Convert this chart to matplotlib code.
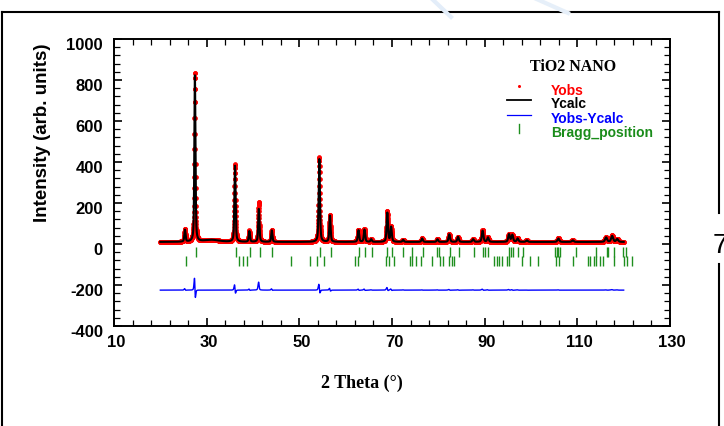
import numpy as np
import matplotlib
matplotlib.use("Agg")
from matplotlib import pyplot as plt
from matplotlib import transforms
from matplotlib.lines import Line2D
from matplotlib.ticker import MultipleLocator

plt.rcParams["axes.unicode_minus"] = False

# reflections of the refined pattern: position (deg 2theta), heights above background, fwhm
peak_pos = [25.3, 27.45, 31.0, 36.1, 39.2, 41.25, 44.05, 54.3, 56.6, 62.75, 64.05,
            65.5, 68.98, 69.8, 72.4, 76.5, 79.8, 82.35, 84.25, 87.5, 89.55, 90.7,
            95.25, 95.95, 97.1, 99.1, 105.9, 109.0, 116.2, 117.5, 118.6]
obs_height = [63, 827, 10, 380, 55, 196, 60, 416, 131, 60, 63,
              14, 150, 75, 11, 18, 14, 39, 26, 14, 58, 23,
              39, 35, 18, 8, 18, 8, 23, 31, 15]
calc_height = [58, 811, 10, 372, 52, 161, 56, 405, 128, 57, 60,
               13, 142, 72, 10, 17, 13, 37, 25, 13, 55, 22,
               37, 34, 17, 8, 17, 8, 22, 29, 14]
peak_fwhm = [0.3, 0.28, 4.0, 0.3, 0.3, 0.3, 0.3, 0.32, 0.32, 0.34, 0.34,
             0.34, 0.35, 0.35, 0.36, 0.36, 0.38, 0.38, 0.38, 0.4, 0.4, 0.4,
             0.42, 0.42, 0.42, 0.44, 0.46, 0.46, 0.5, 0.5, 0.5]

background = 10
calc_shift = 0.012
residual_offset = -225

# tick marks for the two phases
bragg_row1 = [27.6, 36.3, 39.4, 41.5, 44.2, 54.5, 56.8, 62.9, 64.2, 65.6, 69.0, 69.9,
              72.4, 74.3, 76.6, 79.8, 80.2, 82.5, 84.5, 87.7, 89.6, 90.1, 90.8, 95.3,
              95.7, 96.2, 97.3, 98.3, 105.2, 105.6, 105.9, 106.3, 109.7, 114.0, 116.3,
              116.7, 117.9, 119.9, 120.4]
bragg_row2 = [25.5, 37.0, 37.8, 38.7, 48.3, 52.2, 53.9, 55.3, 62.0, 62.7, 68.7, 69.4,
              70.5, 73.9, 74.4, 75.2, 76.2, 78.6, 80.4, 80.9, 82.3, 82.9, 83.4, 92.0,
              92.6, 93.2, 93.7, 94.8, 95.3, 98.1, 99.8, 101.6, 105.4, 106.1, 109.0,
              112.2, 112.7, 113.5, 114.0, 114.8, 115.5, 118.0, 120.1, 120.7, 121.9]

two_theta = np.arange(20.0, 120.0001, 0.02)


def pattern(x, pos, heights, widths):
    y = np.full_like(x, background, dtype=float)
    for p, h, w in zip(pos, heights, widths):
        u = ((x - p) / (w / 2)) ** 2
        y += h * (0.5 / (1 + u) + 0.5 * np.exp(-np.log(2) * u))
    return y


y_obs = pattern(two_theta, peak_pos, obs_height, peak_fwhm)
y_calc = pattern(two_theta, np.array(peak_pos) + calc_shift, calc_height, peak_fwhm)
y_diff = y_obs - y_calc + residual_offset

sans = ["Liberation Sans", "DejaVu Sans"]
serif = ["Liberation Serif", "DejaVu Serif"]

fig = plt.figure(figsize=(7.24, 4.27), dpi=100)
ax = fig.add_axes([114 / 724, 1 - 327 / 427, 556 / 724, 287 / 427])

ax.plot(two_theta, y_obs, linestyle="none", marker="o", ms=3.4, mew=0,
        color="#ff0000", zorder=2)
ax.plot(two_theta, y_calc, color="black", lw=1.5, zorder=3)
ax.plot(two_theta, y_diff, color="#0000ff", lw=1.0, zorder=3)
ax.vlines(bragg_row1, -15, -62, color="#1f8f1f", lw=1.0, zorder=2)
ax.vlines(bragg_row2, -60, -107, color="#1f8f1f", lw=1.0, zorder=2)

ax.set_xlim(10, 130)
ax.set_ylim(-400, 1000)
ax.xaxis.set_major_locator(MultipleLocator(20, offset=10))
ax.xaxis.set_minor_locator(MultipleLocator(4, offset=2))
ax.yaxis.set_major_locator(MultipleLocator(200))
ax.yaxis.set_minor_locator(MultipleLocator(40))
ax.tick_params(which="both", direction="in", top=True, right=True, colors="black")
ax.tick_params(which="major", length=6, width=1.2)
ax.tick_params(which="minor", length=4.5, width=0.9)
ax.tick_params(axis="y", which="major", pad=8)
ax.tick_params(axis="x", which="major", pad=6)
for s in ax.spines.values():
    s.set_linewidth(1.4)

for lab in ax.get_xticklabels() + ax.get_yticklabels():
    lab.set_fontfamily(sans)
    lab.set_fontweight("bold")
    lab.set_fontsize(12)
shift_x = transforms.ScaledTranslation(0.02, 0, fig.dpi_scale_trans)
shift_y = transforms.ScaledTranslation(0, -0.045, fig.dpi_scale_trans)
for lab in ax.get_xticklabels():
    lab.set_transform(lab.get_transform() + shift_x)
for lab in ax.get_yticklabels():
    lab.set_transform(lab.get_transform() + shift_y)

fig.text(43 / 724, 1 - 133 / 427, "Intensity (arb. units)", rotation=90,
         ha="center", va="center", family=sans, weight="bold", fontsize=13.5)
fig.text(362 / 724, 1 - 383 / 427, "2 Theta (°)", ha="center", va="center",
         family=serif, weight="bold", fontsize=13)


# key in the upper right corner
def ax_px(px, py):
    return (px - 114) / 556, (327 - py) / 287


tx, ty = ax_px(573, 67)
ax.text(tx, ty, "TiO2 NANO", transform=ax.transAxes, ha="center", va="center",
        family=serif, weight="bold", fontsize=11.5)
labels = ["Yobs", "Ycalc", "Yobs-Ycalc", "Bragg_position"]
label_colors = ["#ff0000", "black", "#0000ff", "#1a8c1a"]
label_rows = [91, 104, 119, 133]
for text, c, row in zip(labels, label_colors, label_rows):
    lx, ly = ax_px(551, row)
    ax.text(lx, ly, text, transform=ax.transAxes, ha="left", va="center",
            family=sans, weight="bold", fontsize=10, color=c)
mx, my = ax_px(519, 87)
ax.plot([mx], [my], "o", ms=2.2, mew=0, color="#ff0000", transform=ax.transAxes, clip_on=False)
x0, _ = ax_px(507, 0)
x1, _ = ax_px(531, 0)
_, yl = ax_px(0, 101)
ax.plot([x0, x1], [yl, yl], color="black", lw=1.3, transform=ax.transAxes, clip_on=False)
_, yl = ax_px(0, 116)
ax.plot([x0, x1], [yl, yl], color="#0000ff", lw=0.9, transform=ax.transAxes, clip_on=False)
_, ya = ax_px(0, 125)
_, yb = ax_px(0, 134)
ax.plot([mx, mx], [ya, yb], color="#1f8f1f", lw=1.0, transform=ax.transAxes, clip_on=False)


# page frame around the figure
def fig_line(xs, ys, color="black", lw=1.5):
    fig.add_artist(Line2D([x / 724 for x in xs], [1 - y / 427 for y in ys],
                          transform=fig.transFigure, color=color, lw=lw))


fig_line([1.8, 1.8], [13, 430])
fig_line([1.8, 719], [13, 13])
fig_line([719, 719], [13, 214])
fig_line([719, 719], [265, 430])
fig.text(713 / 724, 1 - 253 / 427, "7", ha="left", va="baseline", family=sans, fontsize=20)

# faint strokes of the page background
fig_line([430, 451], [-2, 18], color="#e3edf9", lw=3)
fig_line([532, 568], [-2, 14], color="#e6eff9", lw=3)

fig.savefig("out.png", dpi=100)
